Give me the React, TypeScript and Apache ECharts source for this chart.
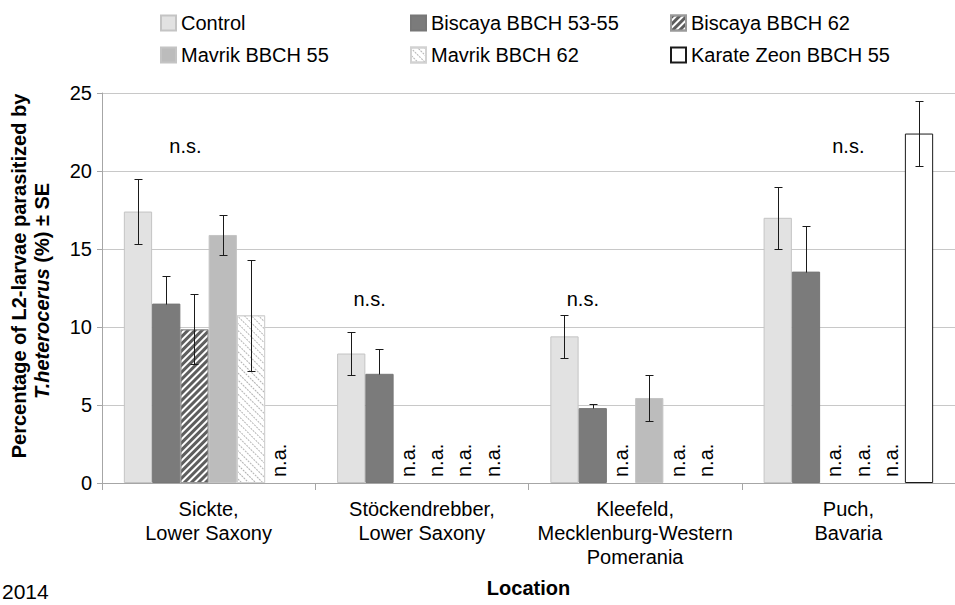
import React, { useEffect, useRef } from 'react';
import * as echarts from 'echarts';

const FONT = '"Liberation Sans", Arial, Helvetica, sans-serif';

// Locations on the category axis
const locations = [
  'Sickte,\nLower Saxony',
  'Stöckendrebber,\nLower Saxony',
  'Kleefeld,\nMecklenburg-Western\nPomerania',
  'Puch,\nBavaria',
];

const seriesNames = [
  'Control',
  'Biscaya BBCH 53-55',
  'Biscaya BBCH 62',
  'Mavrik BBCH 55',
  'Mavrik BBCH 62',
  'Karate Zeon BBCH 55',
];

// Mean parasitism (%) per location; null = not applied (n.a.)
const control = [17.4, 8.3, 9.4, 17.0];
const biscaya5355 = [11.5, 7.0, 4.8, 13.55];
const biscaya62 = [9.85, null, null, null];
const mavrik55 = [15.9, null, 5.45, null];
const mavrik62 = [10.75, null, null, null];
const karate55 = [null, null, null, 22.4];

// Standard errors
const controlSE = [2.1, 1.4, 1.4, 2.0];
const biscaya5355SE = [1.8, 1.6, 0.25, 2.9];
const biscaya62SE = [2.25, null, null, null];
const mavrik55SE = [1.3, null, 1.45, null];
const mavrik62SE = [3.55, null, null, null];
const karate55SE = [null, null, null, 2.1];

// "n.s." annotations: height on the value axis and horizontal shift in bar widths
const nsLevel = [21.6, 11.8, 11.8, 21.6];
const nsShift = [-0.82, -1.85, -1.85, 0];

const yTicks = { min: 0, max: 25, interval: 5 };

const CAT_GAP = 0.205;

const values = [control, biscaya5355, biscaya62, mavrik55, mavrik62, karate55];
const errors = [controlSE, biscaya5355SE, biscaya62SE, mavrik55SE, mavrik62SE, karate55SE];
const plusOnly = [false, true, false, false, false, false];

const itemStyles: any[] = [
  { color: '#e2e2e2', borderColor: '#c4c4c4', borderWidth: 1 },
  { color: '#7b7b7b', borderColor: '#777777', borderWidth: 1 },
  {
    color: '#ffffff',
    borderColor: '#9a9a9a',
    borderWidth: 1,
    decal: {
      symbol: 'rect',
      symbolSize: 1,
      dashArrayX: [1, 0],
      dashArrayY: [3, 2],
      rotation: -Math.PI / 4,
      color: '#5e5e5e',
    },
  },
  { color: '#bcbcbc', borderColor: '#c4c4c4', borderWidth: 1 },
  {
    color: '#ffffff',
    borderColor: '#d2d2d2',
    borderWidth: 1,
    decal: {
      symbol: 'rect',
      symbolSize: 1,
      dashArrayX: [2, 1],
      dashArrayY: [1, 4],
      rotation: Math.PI / 4,
      color: '#b4b4b4',
    },
  },
  { color: '#ffffff', borderColor: '#1a1a1a', borderWidth: 1 },
];

const legendPos = [
  [160, 13],
  [410, 13],
  [670, 13],
  [160, 45],
  [410, 45],
  [670, 45],
];

function barWidth(api: any) {
  return (api.size([1, 0])[0] * (1 - CAT_GAP)) / 6;
}

export default function App() {
  const ref = useRef<HTMLDivElement>(null);

  useEffect(() => {
    if (!ref.current) return;
    const chart = echarts.init(ref.current, null, { renderer: 'svg' });

    const barSeries = values.map((vals, s) => ({
      type: 'bar',
      name: seriesNames[s],
      barGap: '0%',
      barCategoryGap: CAT_GAP * 100 + '%',
      itemStyle: itemStyles[s],
      data: vals.map((v) =>
        v == null
          ? {
              value: 0,
              itemStyle: { color: 'transparent', borderWidth: 0, decal: 'none' },
              label: {
                show: true,
                formatter: 'n.a.',
                position: 'insideBottom',
                distance: 6,
                rotate: 90,
                align: 'left',
                verticalAlign: 'middle',
                fontSize: 20,
                fontFamily: FONT,
                color: '#000',
              },
            }
          : v
      ),
    }));

    const errorBarSeries = values.map((vals, s) => ({
      type: 'custom',
      silent: true,
      clip: false,
      z: 5,
      encode: { x: 0, y: 1 },
      data: vals
        .map((v, i) => (v == null || errors[s][i] == null ? null : [i, v, errors[s][i]]))
        .filter((d) => d != null),
      renderItem: (params: any, api: any) => {
        const cat = api.value(0);
        const v = api.value(1);
        const e = api.value(2);
        const bw = barWidth(api);
        const x = Math.round(api.coord([cat, 0])[0] + (s - 2.5) * bw) + 0.5;
        const yTop = Math.round(api.coord([cat, v + e])[1]) + 0.5;
        const yBot = Math.round(api.coord([cat, plusOnly[s] ? v : v - e])[1]) + 0.5;
        const cap = 4;
        const style = { stroke: '#1a1a1a', lineWidth: 1 };
        const children: any[] = [
          { type: 'line', shape: { x1: x, y1: yTop, x2: x, y2: yBot }, style },
          { type: 'line', shape: { x1: x - cap, y1: yTop, x2: x + cap, y2: yTop }, style },
        ];
        if (!plusOnly[s]) {
          children.push({ type: 'line', shape: { x1: x - cap, y1: yBot, x2: x + cap, y2: yBot }, style });
        }
        return { type: 'group', children };
      },
    }));

    const nsSeries = {
      type: 'custom',
      silent: true,
      clip: false,
      z: 6,
      encode: { x: 0, y: 1 },
      data: nsLevel.map((lvl, i) => [i, lvl, nsShift[i]]),
      renderItem: (params: any, api: any) => {
        const cat = api.value(0);
        const lvl = api.value(1);
        const shift = api.value(2);
        const pt = api.coord([cat, lvl]);
        return {
          type: 'text',
          x: pt[0] + shift * barWidth(api),
          y: pt[1],
          style: {
            text: 'n.s.',
            fontSize: 20,
            fontFamily: FONT,
            fill: '#000',
            align: 'center',
            verticalAlign: 'middle',
          },
        };
      },
    };

    const option: any = {
      animation: false,
      backgroundColor: '#ffffff',
      textStyle: { fontFamily: FONT },
      grid: { left: 102, right: -13, top: 93, bottom: 122 },
      legend: seriesNames.map((n, i) => ({
        data: [n],
        left: legendPos[i][0],
        top: legendPos[i][1],
        icon: 'rect',
        itemWidth: 15,
        itemHeight: 15,
        padding: 0,
        itemGap: 0,
        selectedMode: false,
        textStyle: { fontSize: 20, color: '#000', fontFamily: FONT },
      })),
      xAxis: {
        type: 'category',
        data: locations,
        name: 'Location',
        nameLocation: 'middle',
        nameGap: 95,
        nameTextStyle: { fontSize: 20, fontWeight: 'bold', color: '#000', fontFamily: FONT },
        axisLine: { lineStyle: { color: '#a6a6a6', width: 1 } },
        axisTick: { show: true, length: 7, lineStyle: { color: '#a6a6a6' } },
        axisLabel: {
          fontSize: 20,
          lineHeight: 24,
          color: '#000',
          margin: 14,
          fontFamily: FONT,
          interval: 0,
        },
      },
      yAxis: {
        type: 'value',
        min: yTicks.min,
        max: yTicks.max,
        interval: yTicks.interval,
        axisLine: { show: true, lineStyle: { color: '#a6a6a6', width: 1 } },
        axisTick: { show: true, length: 5, lineStyle: { color: '#a6a6a6' } },
        axisLabel: { fontSize: 20, color: '#000', margin: 10, fontFamily: FONT },
        splitLine: { lineStyle: { color: '#c8c8c8', width: 1 } },
      },
      graphic: [
        {
          type: 'text',
          x: 19,
          y: 276,
          rotation: Math.PI / 2,
          style: {
            text: 'Percentage of L2-larvae parasitized by',
            fontSize: 20,
            fontWeight: 'bold',
            fontFamily: FONT,
            fill: '#000',
            align: 'center',
            verticalAlign: 'middle',
          },
        },
        {
          type: 'text',
          x: 42,
          y: 291,
          rotation: Math.PI / 2,
          style: {
            text: '{i|T.heterocerus} (%) ± SE',
            rich: {
              i: { fontStyle: 'italic', fontWeight: 'bold', fontSize: 20, fontFamily: FONT },
            },
            fontSize: 20,
            fontWeight: 'bold',
            fontFamily: FONT,
            fill: '#000',
            align: 'center',
            verticalAlign: 'middle',
          },
        },
        {
          type: 'text',
          left: 2,
          top: 581,
          style: { text: '2014', fontSize: 21, fontFamily: FONT, fill: '#000' },
        },
      ],
      series: [...barSeries, ...errorBarSeries, nsSeries],
    };

    chart.setOption(option);
    return () => chart.dispose();
  }, []);

  return (
    <div
      ref={ref}
      style={{ position: 'absolute', left: 0, top: 0, width: 955, height: 605, background: '#fff' }}
    />
  );
}
